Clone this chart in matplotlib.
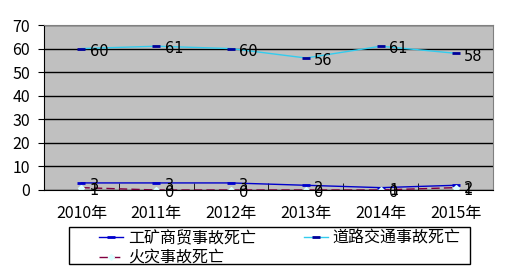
import matplotlib
matplotlib.use("Agg")
import matplotlib.pyplot as plt
from matplotlib.ticker import FixedLocator
from matplotlib.patches import Rectangle

plt.rcParams['font.family'] = ['Noto Sans CJK SC', 'DejaVu Sans']

years = ['2010年', '2011年', '2012年', '2013年', '2014年', '2015年']
industry = [3, 3, 3, 2, 1, 2]
road = [60, 61, 60, 56, 61, 58]
fire = [1, 0, 0, 0, 0, 1]
names = ['工矿商贸事故死亡', '道路交通事故死亡', '火灾事故死亡']

W, H = 508, 277
fig = plt.figure(figsize=(W/100, H/100), dpi=100)
ax = fig.add_axes([44/W, 1-190/H, 449/W, 165/H])
ax.set_facecolor('#C0C0C0')
x = list(range(len(years)))

h1, = ax.plot(x, industry, color='#0000CC', lw=1, marker='_', ms=6, mew=2, mec='#0000CC', label=names[0])
h2, = ax.plot(x, road, color='#33CCEE', lw=1, marker='_', ms=6, mew=2, mec='#000099', label=names[1])
h3, = ax.plot(x, fire, color='#800040', lw=1, ls=(0, (6, 3)), marker='D', ms=3, mfc='#DDFFFF', mec='#DDFFFF', label=names[2])

for series in (industry, road, fire):
    for xi, v in zip(x, series):
        ax.annotate(str(v), (xi, v), xytext=(6, -2), textcoords='offset points',
                    ha='left', va='center', fontsize=10.5, family='DejaVu Sans', color='black')

ax.set_xlim(-0.5, 5.5)
ax.set_ylim(0, 70)
ax.set_yticks(range(0, 71, 10))
ax.yaxis.grid(True, color='black', lw=1)
ax.set_axisbelow(True)
ax.set_xticks(x)
ax.set_xticklabels(years, fontsize=11.5)
ax.tick_params(axis='x', length=0, pad=11)
ax.xaxis.set_minor_locator(FixedLocator([i + 0.5 for i in range(-1, 6)]))
ax.tick_params(axis='x', which='minor', direction='in', length=5, color='black')
ax.tick_params(axis='y', length=4, direction='out', labelsize=11.5, pad=6)
for s in ['top', 'right']:
    ax.spines[s].set_color('#808080')
for s in ['left', 'bottom']:
    ax.spines[s].set_color('black')

fig.patches.append(Rectangle((69/W, 1-264/H), 401/W, 37/H, transform=fig.transFigure,
                             facecolor='white', edgecolor='black', lw=1, zorder=0))
leg = fig.legend([h1, h3, h2], [names[0], names[2], names[1]],
                 loc='upper left', bbox_to_anchor=(99/W, 1-230/H),
                 ncol=2, fontsize=11.5, frameon=False,
                 borderpad=0.0, labelspacing=0.15, handlelength=1.5, handletextpad=0.3,
                 columnspacing=3.0, borderaxespad=0)

fig.savefig('out.png', dpi=100)
